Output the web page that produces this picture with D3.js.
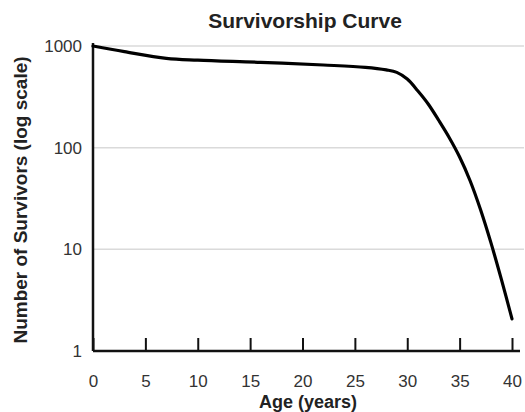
<!DOCTYPE html>
<html><head><meta charset="utf-8">
<script src="https://cdn.jsdelivr.net/npm/d3@7"></script>
<style>body{margin:0;background:#fff}svg{display:block}</style>
</head><body>
<svg id="c" width="525" height="412"></svg>
<script>
const ages = [0, 3, 7, 10, 16, 22, 26, 28, 29, 30, 31, 32, 33, 34, 35, 36, 37, 38, 39, 40];
const survivors = [1000, 880, 756, 725, 690, 650, 617, 582, 550, 473, 363, 269, 186, 126, 81, 47.3, 24.5, 11.5, 5.0, 2.07];
const xTicks = [0, 5, 10, 15, 20, 25, 30, 35, 40];
const yTicks = [1, 10, 100, 1000];
const title = "Survivorship Curve";
const xLabel = "Age (years)";
const yLabel = "Number of Survivors (log scale)";

const svg = d3.select("#c");
const L = 93, R = 512, T = 46, B = 351;
const x = d3.scaleLinear().domain([0, 40]).range([L, R]);
const y = d3.scaleLog().domain([1, 1000]).range([B, T]);
const font = "'Liberation Sans', Arial, sans-serif";

// gridlines
svg.append("g").selectAll("line").data(yTicks.filter(d => d > 1)).join("line")
  .attr("x1", L).attr("x2", 524).attr("y1", d => y(d)).attr("y2", d => y(d))
  .attr("stroke", "#dadada").attr("stroke-width", 1.5);

// x axis
const xa = svg.append("g").attr("transform", `translate(0,${B})`)
  .call(d3.axisBottom(x).tickValues(xTicks).tickSize(-13).tickFormat(d3.format("d")));
xa.select(".domain").remove();
xa.selectAll(".tick line").attr("stroke", "#111").attr("stroke-width", 2);
xa.selectAll(".tick text").attr("font-family", font).attr("font-size", 17).attr("fill", "#333")
  .attr("y", 36).attr("dy", null);
svg.append("line").attr("x1", L).attr("x2", 520).attr("y1", B).attr("y2", B)
  .attr("stroke", "#111").attr("stroke-width", 2.5);

// y axis
const ya = svg.append("g").attr("transform", `translate(${L},0)`)
  .call(d3.axisLeft(y).tickValues(yTicks).tickSize(0).tickPadding(11).tickFormat(d3.format("d")));
ya.select(".domain").remove();
ya.selectAll(".tick text").attr("font-family", font).attr("font-size", 17).attr("fill", "#333");
svg.append("line").attr("x1", L).attr("x2", L).attr("y1", T - 3).attr("y2", B)
  .attr("stroke", "#111").attr("stroke-width", 2.5);

// curve
const data = ages.map((a, i) => ({a, v: survivors[i]}));
svg.append("path").datum(data)
  .attr("fill", "none").attr("stroke", "#000").attr("stroke-width", 3.2).attr("stroke-linecap", "round")
  .attr("d", d3.line().x(d => x(d.a)).y(d => y(d.v)).curve(d3.curveCatmullRom.alpha(0.5)));

// titles
svg.append("text").attr("x", 305).attr("y", 28).attr("text-anchor", "middle")
  .attr("font-family", font).attr("font-weight", "bold").attr("font-size", 21).attr("fill", "#222").text(title);
svg.append("text").attr("x", 308).attr("y", 408).attr("text-anchor", "middle")
  .attr("font-family", font).attr("font-weight", "bold").attr("font-size", 18).attr("fill", "#222").text(xLabel);
svg.append("text").attr("transform", "translate(27,200) rotate(-90)").attr("text-anchor", "middle")
  .attr("font-family", font).attr("font-weight", "bold").attr("font-size", 19).attr("fill", "#222").text(yLabel);
</script>
</body></html>
